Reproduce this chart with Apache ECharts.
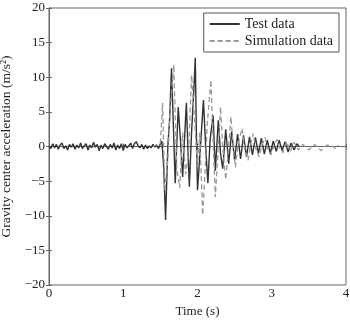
<!DOCTYPE html>
<html><head><meta charset="utf-8">
<script src="https://cdn.jsdelivr.net/npm/echarts@6/dist/echarts.min.js"></script>
<style>html,body{margin:0;padding:0;background:#fff}#c{width:350px;height:320px}</style>
</head><body><div id="c"></div>
<script>
const seriesNames = ['Test data', 'Simulation data'];
const xTicks = [0, 1, 2, 3, 4];
const yTicks = [-20, -15, -10, -5, 0, 5, 10, 15, 20];
const testT = [0,0.025,0.05,0.075,0.1,0.125,0.15,0.175,0.2,0.225,0.25,0.275,0.3,0.325,0.35,0.375,0.4,0.425,0.45,0.475,0.5,0.525,0.55,0.575,0.6,0.625,0.65,0.675,0.7,0.725,0.75,0.775,0.8,0.825,0.85,0.875,0.9,0.925,0.95,0.975,1.0,1.025,1.05,1.075,1.1,1.125,1.15,1.175,1.2,1.225,1.25,1.275,1.3,1.325,1.35,1.375,1.4,1.425,1.45,1.475,1.5,1.52,
1.545,1.57,1.6,1.625,1.65,1.675,1.70,1.72,1.74,1.77,1.80,1.825,1.85,1.87,1.89,1.92,1.95,1.97,1.985,2.0,2.04,2.08,2.11,2.14,2.17,2.21,2.24,2.28,2.31,2.34,2.38,2.42,2.46,2.5,2.54,2.58,2.62,2.66,2.7,2.74,2.78,2.82,2.86,2.9,2.94,2.98,3.02,3.06,3.1,3.14,3.18,3.22,3.26,3.3,3.34,3.37];
const testV = [0.1,-0.3,0.4,-0.2,0.3,-0.4,0.2,0.5,-0.3,0.1,-0.5,0.3,-0.1,0.4,-0.4,0.2,-0.2,0.5,-0.3,0.1,0.4,-0.5,0.2,-0.2,0.6,-0.1,0.3,-0.6,0.2,-0.3,0.4,0.0,-0.4,0.3,-0.2,0.5,-0.5,0.2,-0.3,0.4,-0.6,0.3,-0.2,0.1,0.5,-0.3,0.4,0.7,0.1,-0.2,0.3,-0.4,0.2,-0.3,0.1,-0.2,0.3,-0.1,0.2,-0.3,0.4,0.8,
-3,-10.6,0,4,11.3,3,-5.3,0,5.7,1,-4.4,1,6.3,0,-5.8,2,8,12.8,2,-6.3,0,6.7,0,-5.3,1,4.5,-3.5,3.8,-1,-3.2,2.5,-2.5,2.2,-2,1.8,-1.8,1.6,-1.5,1.4,-1.2,1.3,-1.0,1.2,-1.1,0.9,-1.0,0.8,-0.7,0.9,-0.6,0.7,-0.8,0.5,-0.5,0.4,0];
const simT = [1.4,1.5,1.53,1.56,1.6,1.63,1.68,1.72,1.76,1.8,1.84,1.88,1.92,1.96,2.0,2.03,2.07,2.1,2.13,2.18,2.21,2.24,2.28,2.31,2.34,2.38,2.42,2.45,2.48,2.51,2.55,2.6,2.64,2.68,2.72,2.75,2.79,2.83,2.87,2.91,2.95,2.99,3.03,3.07,3.11,3.15,3.2,3.25,3.3,3.36,3.42,3.5,3.58,3.66,3.74,3.8,3.86,3.9];
const simV = [0,0.5,6.3,-6.3,-2,5,11.8,-3,-6,2,-4,-1,10.3,4,-3,2,-9.9,-4,3,9.6,1,-7.3,0,5.7,0,-4.8,0,4.3,0,-3.0,0.5,2.6,-0.5,-2.0,0.5,1.9,-0.5,-1.5,0.3,1.3,-0.5,-1.2,0.2,1.0,-0.3,-0.9,0.7,-0.7,0.6,-0.5,0.3,-0.5,0.3,-0.6,0.2,0.2,-0.3,0.2];

const font = 'Liberation Serif';
const fmt = v => String(v).replace('-', '\u2212');
const chart = echarts.init(document.getElementById('c'), null, {renderer: 'canvas'});
const pairs = (t, v) => t.map((x, i) => [x, v[i]]);
const axisCommon = {
  axisLine: {show: true, lineStyle: {color: '#666', width: 1}},
  axisTick: {show: true, inside: true, length: 3, lineStyle: {color: '#666'}},
  splitLine: {show: false}
};
chart.setOption({
  animation: false,
  backgroundColor: '#fff',
  grid: {left: 49, right: 4, top: 8, bottom: 35, show: true, borderColor: '#666', borderWidth: 1,
    containLabel: false, outerBoundsMode: 'none'},
  legend: {
    data: seriesNames, orient: 'vertical', right: 11, top: 13,
    borderColor: '#555', borderWidth: 1, padding: [4, 6, 4, 5], itemGap: 3,
    itemWidth: 30, itemHeight: 15,
    itemStyle: {opacity: 0},
    textStyle: {fontFamily: font, fontSize: 14, color: '#222'}
  },
  xAxis: [
    Object.assign({type: 'value', min: xTicks[0], max: xTicks[xTicks.length-1], interval: 1,
      name: 'Time (s)', nameLocation: 'middle', nameGap: 19,
      nameTextStyle: {fontFamily: font, fontSize: 13, color: '#222'},
      axisLabel: {fontFamily: font, fontSize: 13, color: '#222', margin: 2, formatter: fmt}}, axisCommon),
    Object.assign({type: 'value', position: 'top', min: 0, max: 4, interval: 1,
      axisLabel: {show: false}}, axisCommon)
  ],
  yAxis: [
    Object.assign({type: 'value', min: yTicks[0], max: yTicks[yTicks.length-1], interval: 5,
      name: 'Gravity center acceleration (m/s\u00B2)', nameLocation: 'middle', nameGap: 29,
      nameTextStyle: {fontFamily: font, fontSize: 13.5, color: '#222'},
      axisLabel: {fontFamily: font, fontSize: 13, color: '#222', margin: 4, formatter: fmt}}, axisCommon),
    Object.assign({type: 'value', position: 'right', min: -20, max: 20, interval: 5,
      axisLabel: {show: false}}, axisCommon)
  ],
  series: [
    {name: seriesNames[0], type: 'line', data: pairs(testT, testV), symbol: 'none', showSymbol: false,
      lineStyle: {color: '#333', width: 1.4}, itemStyle: {color: '#333'}, z: 2},
    {name: seriesNames[1], type: 'line', data: pairs(simT, simV), symbol: 'none', showSymbol: false,
      lineStyle: {color: '#999', width: 1.3, type: [5, 3]}, itemStyle: {color: '#999'}, z: 3}
  ]
});
</script></body></html>
